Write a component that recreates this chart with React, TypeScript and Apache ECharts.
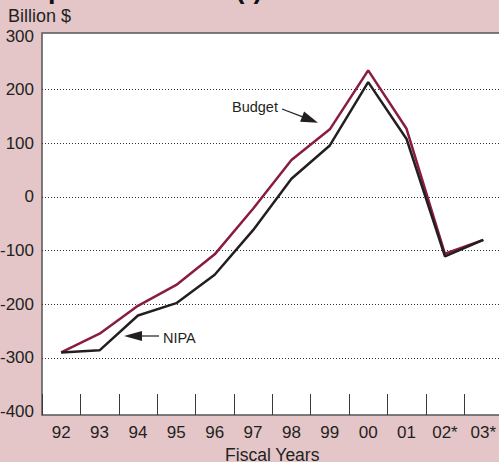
import React, { useEffect, useRef } from "react";
import * as echarts from "echarts";

const years = ["92", "93", "94", "95", "96", "97", "98", "99", "00", "01", "02*", "03*"];
const budget = [-290, -255, -203, -164, -107, -22, 69, 126, 236, 127, -106, -80];
const nipa = [-290, -286, -221, -198, -145, -62, 34, 96, 214, 108, -111, -80];
const gridValues = [200, 100, 0, -100, -200, -300];

const TEXT = "#231f20";
const FONT = "Liberation Sans, Arial, Helvetica, sans-serif";

export default function App() {
  const ref = useRef<HTMLDivElement>(null);
  useEffect(() => {
    if (!ref.current) return;
    const chart = echarts.init(ref.current, null, { renderer: "svg" });
    chart.setOption({
      animation: false,
      backgroundColor: "#e4c6c9",
      textStyle: { fontFamily: FONT },
      grid: {
        left: 42,
        right: -3.5,
        top: 36,
        bottom: 50.5,
        containLabel: false,
        outerBoundsMode: "none",
      },
      xAxis: {
        type: "category",
        data: years,
        boundaryGap: true,
        offset: 3.5,
        axisLine: { show: false, onZero: false },
        axisTick: { show: true, inside: true, length: 21, lineStyle: { color: "#3a3a3a", width: 1 } },
        axisLabel: { fontSize: 17, color: TEXT, margin: 9, fontFamily: FONT },
        name: "Fiscal Years",
        nameLocation: "middle",
        nameGap: 24,
        nameTextStyle: { fontSize: 17.5, color: TEXT, fontFamily: FONT },
        splitLine: { show: false },
      },
      yAxis: {
        type: "value",
        min: -400,
        max: 300,
        interval: 100,
        axisLine: { show: false },
        axisTick: { show: false },
        splitLine: { show: false },
        axisLabel: { fontSize: 17, color: TEXT, margin: 8, fontFamily: FONT },
      },
      series: [
        {
          name: "Budget",
          type: "line",
          data: budget,
          symbol: "none",
          lineStyle: { color: "#8a1c3f", width: 2.5 },
          z: 3,
          markLine: {
            silent: true,
            symbol: ["none", "none"],
            label: { show: false },
            lineStyle: { type: [1, 2], color: "#333", width: 1 },
            data: gridValues.map((v) => ({ yAxis: v })),
            z: 1,
          },
        },
        {
          name: "NIPA",
          type: "line",
          data: nipa,
          symbol: "none",
          lineStyle: { color: "#231f20", width: 2.5 },
          z: 4,
        },
      ],
      graphic: [
        {
          type: "rect",
          z: -10,
          shape: { x: 42, y: 33, width: 480, height: 382 },
          style: { fill: "#ffffff", stroke: "#555555", lineWidth: 1.5 },
        },
        {
          type: "text",
          x: 3,
          y: -11,
          style: {
            text: "Surplus or Deficit (-)",
            font: `bold 27px ${FONT}`,
            fill: "#111",
            verticalAlign: "middle",
          },
        },
        {
          type: "text",
          x: 8,
          y: 15.5,
          style: { text: "Billion $", font: `18px ${FONT}`, fill: TEXT, verticalAlign: "middle" },
        },
        {
          type: "text",
          x: 232,
          y: 107,
          style: { text: "Budget", font: `14.5px ${FONT}`, fill: TEXT, verticalAlign: "middle" },
        },
        {
          type: "line",
          shape: { x1: 282, y1: 109, x2: 304, y2: 117.4 },
          style: { stroke: TEXT, lineWidth: 1.2 },
        },
        {
          type: "polygon",
          shape: { points: [[318, 122.7], [300.1, 121.7], [304.1, 111.5]] },
          style: { fill: TEXT },
        },
        {
          type: "text",
          x: 163,
          y: 338,
          style: { text: "NIPA", font: `14.5px ${FONT}`, fill: TEXT, verticalAlign: "middle" },
        },
        {
          type: "line",
          shape: { x1: 159, y1: 336, x2: 140, y2: 336 },
          style: { stroke: TEXT, lineWidth: 1.2 },
        },
        {
          type: "polygon",
          shape: { points: [[124, 336], [142, 331], [142, 341]] },
          style: { fill: TEXT },
        },
      ],
    });
    return () => chart.dispose();
  }, []);
  return (
    <div
      ref={ref}
      style={{ position: "fixed", left: 0, top: 0, width: 499, height: 462 }}
    />
  );
}
